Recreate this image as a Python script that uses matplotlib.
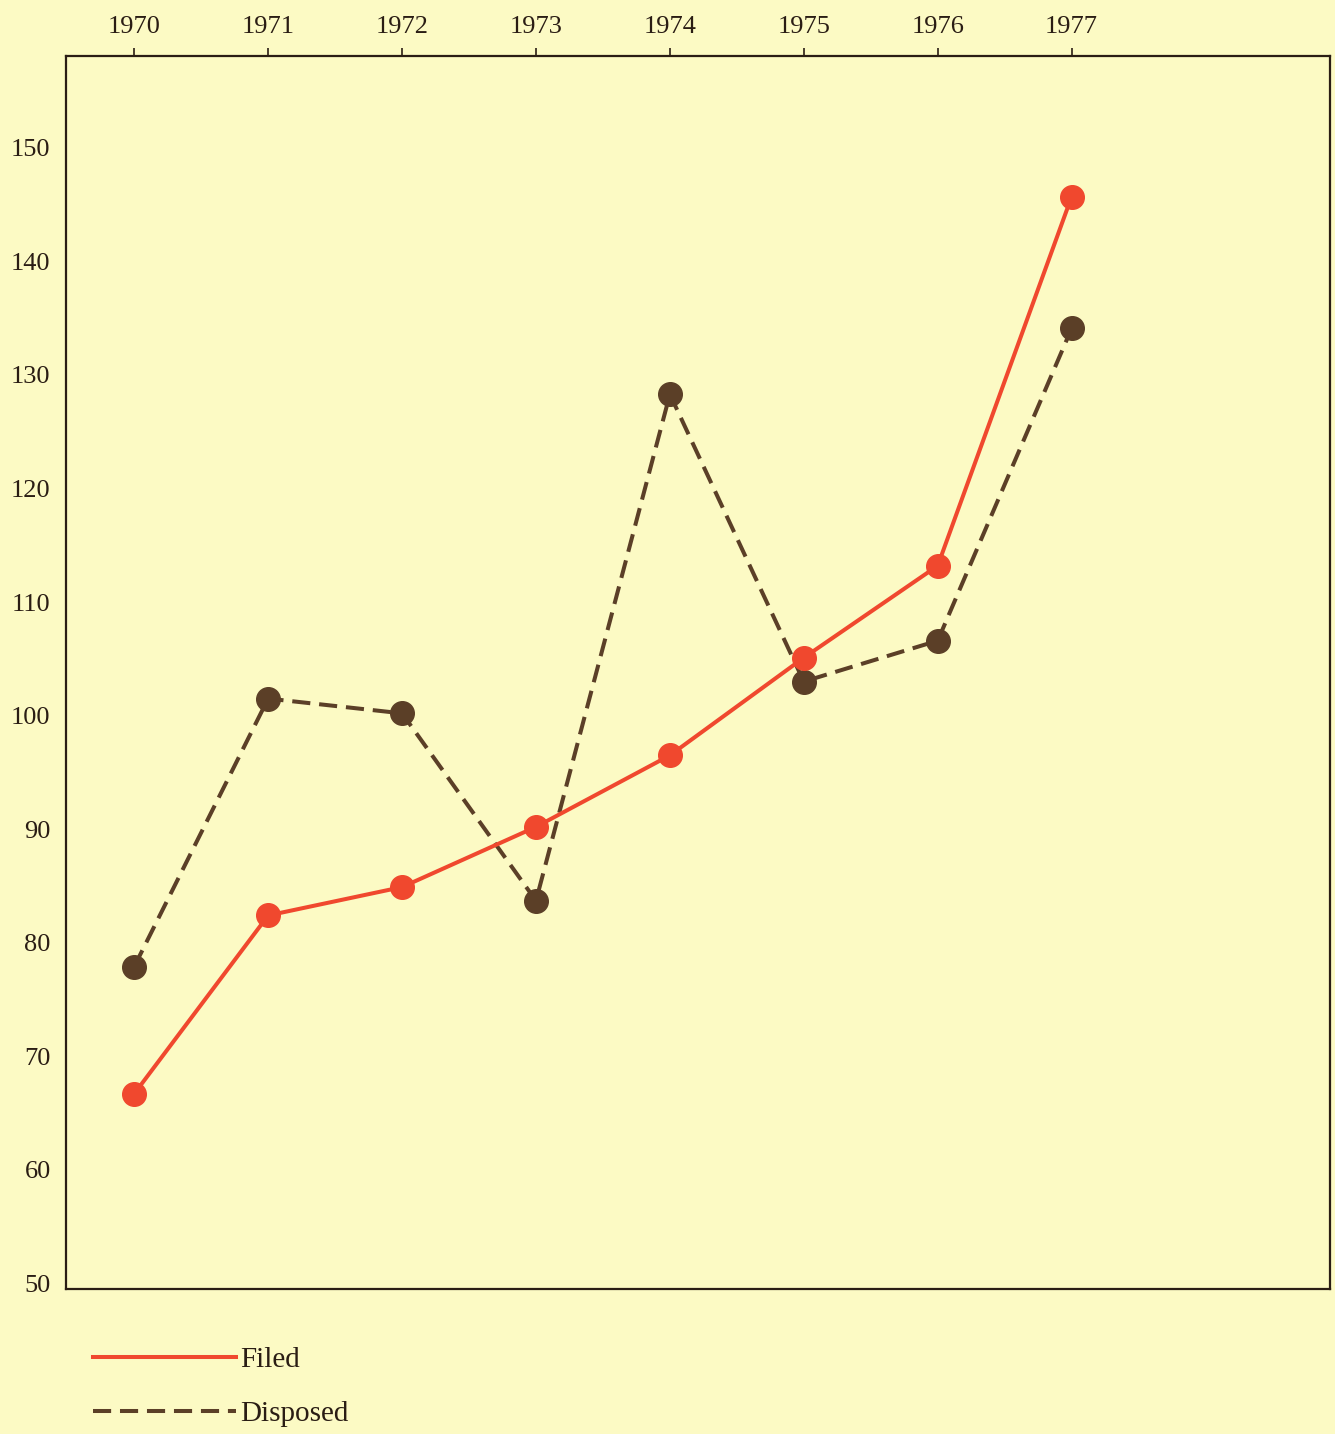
import matplotlib
matplotlib.use("Agg")
import matplotlib.pyplot as plt

# data
years = [1970, 1971, 1972, 1973, 1974, 1975, 1976, 1977]
filed = [66.7, 82.4, 84.9, 90.2, 96.5, 105.1, 113.2, 145.7]
disposed = [77.9, 101.5, 100.2, 83.7, 128.3, 103.0, 106.6, 134.1]
y_ticks = [50, 60, 70, 80, 90, 100, 110, 120, 130, 140, 150]

bg = '#fcfac4'
red = '#f0482e'
brown = '#5b3f27'
ink = '#2a1d14'

plt.rcParams['font.family'] = ['Liberation Serif', 'DejaVu Serif']

fig = plt.figure(figsize=(13.35, 14.34), dpi=100, facecolor=bg)
ax = fig.add_axes([0.0494, 0.1011, 0.9469, 0.8599], facecolor=bg)

ax.plot(years, filed, color=red, lw=2.9, marker='o', ms=17, mec=red, mfc=red,
        label='Filed', zorder=3)
ax.plot(years, disposed, color=brown, lw=2.9, ls=(0, (4.5, 2.2)), marker='o', ms=17,
        mec=brown, mfc=brown, label='Disposed', zorder=2)

ax.set_xlim(1969.49, 1978.93)
ax.set_ylim(49.5, 158.1)

# years on top with small outward ticks
ax.xaxis.tick_top()
ax.set_xticks(years)
ax.set_xticklabels([str(y) for y in years])
ax.tick_params(axis='x', direction='out', length=6, width=1.2, color=ink,
               labelsize=19, labelcolor=ink, pad=7)

ax.set_yticks(y_ticks)
ax.set_yticklabels([str(v) for v in y_ticks])
ax.tick_params(axis='y', length=0, labelsize=19, labelcolor=ink, pad=11)

for s in ax.spines.values():
    s.set_color(ink)
    s.set_linewidth(1.6)

leg = ax.legend(loc='upper left', bbox_to_anchor=(0.012, -0.037), frameon=False,
                fontsize=21, handlelength=4.9, handletextpad=0.15, labelspacing=0.95,
                borderaxespad=0)
for t in leg.get_texts():
    t.set_color(ink)
for h in leg.get_lines():
    h.set_marker('')

fig.savefig('out.png', dpi=100, facecolor=bg)
